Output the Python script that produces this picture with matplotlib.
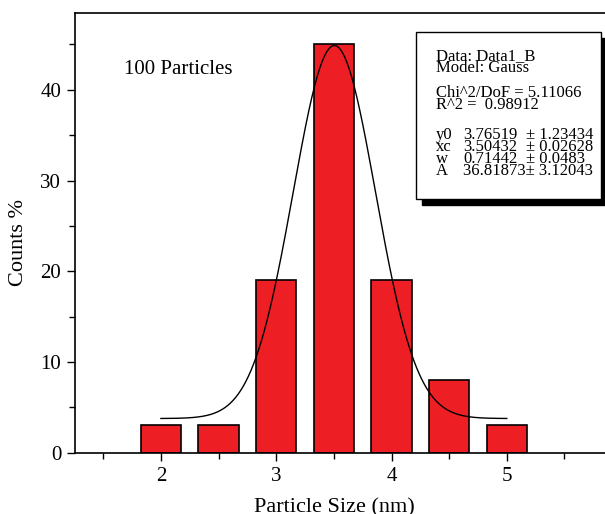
import numpy as np
import matplotlib
matplotlib.use("Agg")
import matplotlib.pyplot as plt
from matplotlib.patches import Rectangle
from matplotlib.transforms import IdentityTransform
from matplotlib.ticker import MultipleLocator, FixedLocator

plt.rcParams['font.family'] = ['Liberation Serif', 'DejaVu Serif']

sizes = [2.0, 2.5, 3.0, 3.5, 4.0, 4.5, 5.0]
counts = [3, 3, 19, 45, 19, 8, 3]
xticks = [2, 3, 4, 5]
xminor = [1.5, 2.5, 3.5, 4.5, 5.5]
y0, xc, w, A = 3.76519, 3.50432, 0.71442, 36.81873
header_lines = ["Data: Data1_B", "Model: Gauss", "Chi^2/DoF = 5.11066", "R^2 =  0.98912"]
params = [("y0", "3.76519", "\u00b1 1.23434"), ("xc", "3.50432", "\u00b1 0.02628"),
          ("w", "0.71442", "\u00b1 0.0483"), ("A", "36.81873\u00b1 3.12043", "")]

fig = plt.figure(figsize=(6.05, 5.14), dpi=100)
ax = fig.add_axes([0.124, 0.1193, 0.95, 0.8560])

ax.bar(sizes, counts, width=0.35, color='#ee1f24', edgecolor='black', linewidth=1.2, zorder=2)
xx = np.linspace(2, 5, 400)
yy = y0 + A / (w * np.sqrt(np.pi / 2)) * np.exp(-2 * ((xx - xc) / w) ** 2)
ax.plot(xx, yy, color='black', linewidth=1.0, zorder=3)

ax.set_xlim(1.255, 6.24)
ax.set_ylim(0, 48.5)
ax.xaxis.set_major_locator(FixedLocator(xticks))
ax.xaxis.set_minor_locator(FixedLocator(xminor))
ax.yaxis.set_major_locator(MultipleLocator(10))
ax.yaxis.set_minor_locator(MultipleLocator(5))
ax.tick_params(which='major', direction='out', length=6, width=1, labelsize=15, pad=4)
ax.tick_params(which='minor', direction='out', length=4, width=1)
for s in ax.spines.values():
    s.set_linewidth(1.2)
ax.set_xlabel("Particle Size (nm)", fontsize=16)
ax.set_ylabel("Counts %", fontsize=16)
ax.xaxis.set_label_coords(0.452, -0.103)
ax.yaxis.set_label_coords(-0.081, 0.478)

fig.text(124/605, 1 - 70/514, "100 Particles", fontsize=15, ha='left', va='center')

# text box with shadow (figure pixel coordinates)
bx0, bx1, by0, by1 = 416, 601, 32, 199
shadow = Rectangle((bx0 + 6, 514 - by1 - 6), bx1 - bx0, by1 - by0, facecolor='black',
                   edgecolor='black', zorder=5, transform=IdentityTransform())
box = Rectangle((bx0, 514 - by1), bx1 - bx0, by1 - by0, facecolor='white', edgecolor='black',
                linewidth=1.0, zorder=6, transform=IdentityTransform())
fig.patches.extend([shadow, box])

fs = 12
def put(xp, yp, s):
    fig.text(xp / 605, 1 - yp / 514, s, fontsize=fs, ha='left', va='center', zorder=7)

for s, yp in zip(header_lines, [56, 68, 93, 105]):
    put(436, yp, s)
rows_y = [135, 147, 159, 171]
for (name, val, err), yp in zip(params, rows_y):
    put(436, yp, name)
    put(463, yp, val)
    if err:
        put(526, yp, err)

fig.savefig("out.png", dpi=100)
